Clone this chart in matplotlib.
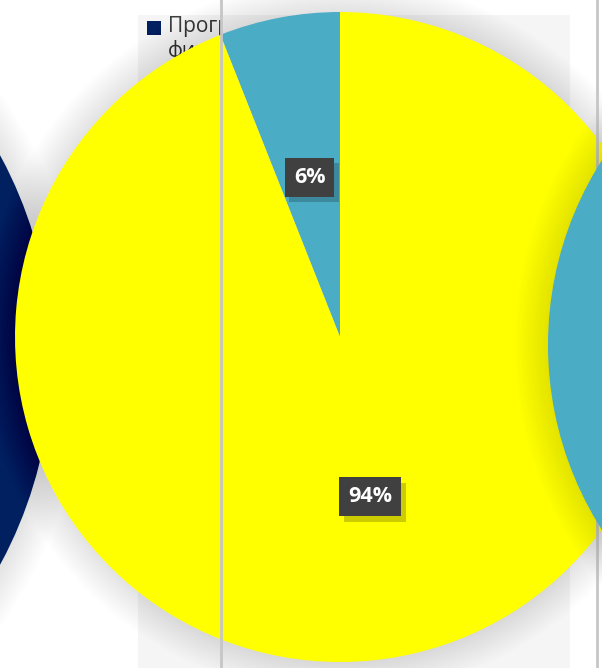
import numpy as np
import matplotlib.pyplot as plt
from matplotlib.patches import Circle, Rectangle
import matplotlib.patheffects as pe

# данные диаграммы
shares = [6, 94]
colors = ['#4BACC6', '#FFFF00']
legend_text = 'Программа\nфинансирования'
legend_color = '#002060'

W, H = 602, 668


def Y(p):
    # пиксельная координата сверху -> координата оси снизу
    return H - p


def glow(ax, cx, cy, r, z, n=28, step=1.2, a=0.005):
    for i in range(n):
        ax.add_patch(Circle((cx, cy), r + step * (i + 1), color='black',
                            alpha=a, lw=0, zorder=z))


fig = plt.figure(figsize=(W / 100, H / 100), dpi=100)
ax = fig.add_axes([0, 0, 1, 1])
ax.set_xlim(0, W)
ax.set_ylim(0, H)
ax.axis('off')

# фон: светлая панель диаграммы и линии сетки
ax.add_patch(Rectangle((138, 0), 432, Y(15), color='#f5f5f5', lw=0, zorder=0))
ax.plot([221, 221], [0, H], color='#c6c6c6', lw=2, zorder=6)
ax.plot([597, 597], [0, H], color='#c6c6c6', lw=2, zorder=6)

# легенда (частично закрыта диаграммой)
ax.add_patch(Rectangle((147, Y(35)), 14, 14, color=legend_color, lw=0, zorder=1))
clip = Rectangle((0, 0), 221, H, transform=ax.transData, fc='none', lw=0)
ax.add_patch(clip)
leg = ax.text(168, Y(16), legend_text, fontsize=15, color='#404040', va='top',
              ha='left', family='Open Sans', linespacing=1.2, zorder=1,
              clip_on=True)
leg.set_clip_path(clip)

# тёмно-синяя диаграмма слева
glow(ax, -378, Y(360), 430, 2)
ax.add_patch(Circle((-378, Y(360)), 430, color=legend_color, lw=0, zorder=3))

# основная круговая диаграмма
cx, cy, R = 340, Y(337), 325
glow(ax, cx, cy, R, 4)
wedges, texts, autotexts = ax.pie(
    shares, colors=colors, startangle=90, counterclock=True,
    center=(cx, cy), radius=R, autopct='%d%%', pctdistance=0.5,
    wedgeprops=dict(lw=0, zorder=5),
    textprops=dict(color='white', fontsize=15.5, fontweight='bold',
                   family='Open Sans'))
ax.set_xlim(0, W)
ax.set_ylim(0, H)
ax.set_aspect('equal')

for t in autotexts:
    t.set_zorder(10)
    t.set_bbox(dict(boxstyle='square,pad=0.42', fc='#404040', ec='none'))
    t.get_bbox_patch().set_path_effects(
        [pe.SimplePatchShadow(offset=(3, -4), shadow_rgbFace='black', alpha=0.2),
         pe.Normal()])

# голубая диаграмма справа
glow(ax, 892, Y(345), 344, 7)
ax.add_patch(Circle((892, Y(345)), 344, color='#4BACC6', lw=0, zorder=8))

fig.savefig('out.png', dpi=100)
